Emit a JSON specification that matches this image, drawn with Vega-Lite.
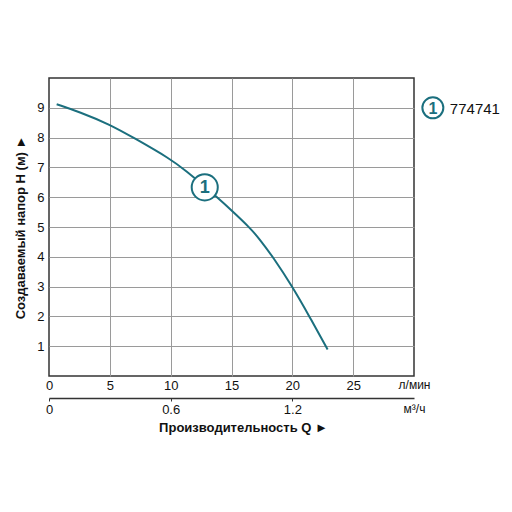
{
  "$schema": "https://vega.github.io/schema/vega-lite/v6.json",
  "width": 365,
  "height": 298,
  "autosize": "none",
  "padding": {"left": 49, "top": 78, "right": 98, "bottom": 136},
  "config": {
    "font": "Liberation Sans",
    "view": {"stroke": "#333333", "strokeWidth": 1.5},
    "axis": {"labelColor": "#111111", "titleColor": "#111111", "labelFontSize": 13, "gridColor": "#9a9a9a", "gridWidth": 1}
  },
  "datasets": {
    "curve": [
      {"Q": 0.63, "H": 9.12},
      {"Q": 2.5, "H": 8.86},
      {"Q": 5, "H": 8.44},
      {"Q": 6.93, "H": 8.0},
      {"Q": 10, "H": 7.28},
      {"Q": 11.3, "H": 6.87},
      {"Q": 12.8, "H": 6.36},
      {"Q": 13.8, "H": 6.0},
      {"Q": 15, "H": 5.56},
      {"Q": 16.5, "H": 4.98},
      {"Q": 17.3, "H": 4.6},
      {"Q": 18.4, "H": 4.0},
      {"Q": 20, "H": 3.0},
      {"Q": 21.4, "H": 2.0},
      {"Q": 22.9, "H": 0.89}
    ],
    "markers": [
      {"Q": 12.8, "H": 6.33, "num": "1", "role": "curve", "name": ""},
      {"Q": 31.55, "H": 9, "num": "1", "role": "legend", "name": "774741"}
    ]
  },
  "resolve": {"scale": {"x": "independent"}, "axis": {"x": "independent"}},
  "layer": [
    {
      "data": {"name": "curve"},
      "mark": {"type": "line", "color": "#1b6f7e", "strokeWidth": 2, "interpolate": "basis"},
      "encoding": {
        "x": {
          "field": "Q", "type": "quantitative",
          "scale": {"domain": [0, 30], "nice": false},
          "axis": {
            "orient": "bottom", "title": null, "values": [0, 5, 10, 15, 20, 25, 30], "tickCount": 10,
            "grid": true, "domain": false, "ticks": false, "labelPadding": 3, "labelFlush": false, "labelOverlap": false,
            "gridOpacity": {"condition": {"test": "datum.value == 0 || datum.value == 30", "value": 0}, "value": 1},
            "labelFontSize": {"condition": {"test": "datum.value == 30", "value": 12}, "value": 13},
            "labelExpr": "datum.value == 30 ? 'л/мин' : datum.label"
          }
        },
        "y": {
          "field": "H", "type": "quantitative",
          "scale": {"domain": [0, 10], "nice": false},
          "axis": {
            "title": "Создаваемый напор H (м) ►", "titleFontWeight": "bold", "titleFontSize": 13, "titlePadding": 9,
            "values": [1, 2, 3, 4, 5, 6, 7, 8, 9], "tickCount": 12, "grid": true, "domain": false, "ticks": false,
            "labelPadding": 5, "labelOverlap": false
          }
        }
      }
    },
    {
      "data": {"name": "markers"},
      "transform": [{"filter": "datum.role == 'curve'"}],
      "layer": [
        {"mark": {"type": "point", "shape": "circle", "filled": true, "fill": "white", "stroke": "#1b6f7e", "strokeWidth": 2, "opacity": 1, "size": 680}},
        {"mark": {"type": "text", "color": "#1b6f7e", "fontWeight": "bold", "fontSize": 18, "align": "center", "baseline": "middle", "dy": 1}, "encoding": {"text": {"field": "num"}}}
      ],
      "encoding": {
        "x": {"field": "Q", "type": "quantitative", "scale": {"domain": [0, 30], "nice": false}, "axis": null},
        "y": {"field": "H", "type": "quantitative"}
      }
    },
    {
      "data": {"name": "markers"},
      "transform": [{"filter": "datum.role == 'legend'"}],
      "layer": [
        {"mark": {"type": "point", "shape": "circle", "filled": true, "fill": "white", "stroke": "#1b6f7e", "strokeWidth": 2, "opacity": 1, "size": 440}},
        {"mark": {"type": "text", "color": "#1b6f7e", "fontWeight": "bold", "fontSize": 16, "align": "center", "baseline": "middle", "dy": 1}, "encoding": {"text": {"field": "num"}}},
        {"mark": {"type": "text", "color": "#111111", "fontSize": 15, "align": "left", "baseline": "middle", "dx": 17, "dy": 1}, "encoding": {"text": {"field": "name"}}}
      ],
      "encoding": {
        "x": {"field": "Q", "type": "quantitative", "scale": {"domain": [0, 30], "nice": false}, "axis": null},
        "y": {"field": "H", "type": "quantitative"}
      }
    },
    {
      "data": {"values": [{}]},
      "mark": {"type": "rule", "opacity": 0},
      "encoding": {
        "x": {
          "datum": 0, "type": "quantitative",
          "scale": {"domain": [0, 1.8], "nice": false},
          "axis": {
            "orient": "bottom", "offset": 22, "values": [0, 0.6, 1.2, 1.8], "tickCount": 10,
            "domain": true, "domainColor": "#333333", "domainWidth": 1.5,
            "ticks": true, "tickSize": 3, "tickColor": "#333333",
            "tickOpacity": {"condition": {"test": "datum.value > 1.7", "value": 0}, "value": 1},
            "grid": false, "labelPadding": 2, "labelFlush": false, "labelOverlap": false,
            "labelFontSize": {"condition": {"test": "datum.value > 1.7", "value": 12}, "value": 13},
            "labelExpr": "datum.value == 0 ? '0' : datum.value > 1.7 ? 'м³/ч' : format(datum.value, '.1f')",
            "title": "Производительность Q ►", "titleFontWeight": "bold", "titleFontSize": 13, "titlePadding": 5,
            "titleX": 194
          }
        }
      }
    }
  ]
}
